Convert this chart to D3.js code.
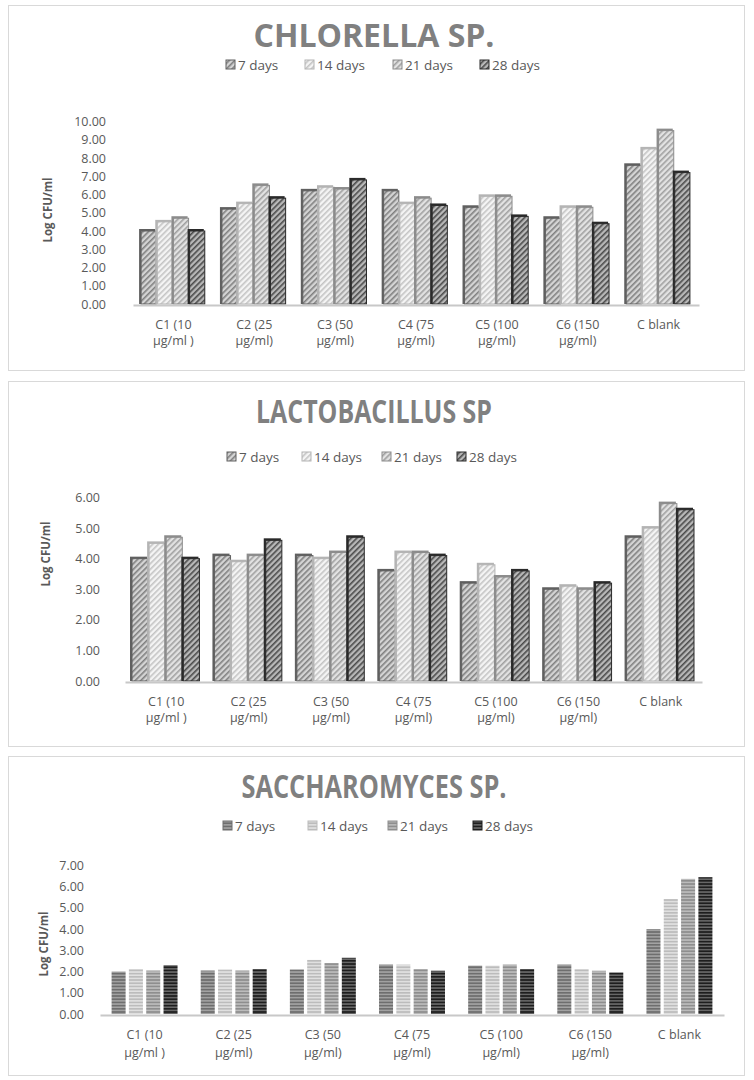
<!DOCTYPE html>
<html><head><meta charset="utf-8">
<script src="https://cdn.jsdelivr.net/npm/d3@7"></script>
<style>
body{margin:0;background:#fff;}
svg text{font-family:"Open Sans","Noto Sans",sans-serif;}
</style>
</head><body>
<svg id="chart" width="754" height="1080"></svg>
<script>
// ---------- data ----------
const categories = ["C1 (10|µg/ml )","C2 (25|µg/ml)","C3 (50|µg/ml)","C4 (75|µg/ml)","C5 (100|µg/ml)","C6 (150|µg/ml)","C blank"];
const seriesNames = ["7 days","14 days","21 days","28 days"];

const chlorella7  = [4.0, 5.2, 6.2, 6.2, 5.3, 4.7, 7.6];
const chlorella14 = [4.5, 5.5, 6.4, 5.5, 5.9, 5.3, 8.5];
const chlorella21 = [4.7, 6.5, 6.3, 5.8, 5.9, 5.3, 9.5];
const chlorella28 = [4.0, 5.8, 6.8, 5.4, 4.8, 4.4, 7.2];

const lacto7  = [4.0, 4.1, 4.1, 3.6, 3.2, 3.0, 4.7];
const lacto14 = [4.5, 3.9, 4.0, 4.2, 3.8, 3.1, 5.0];
const lacto21 = [4.7, 4.1, 4.2, 4.2, 3.4, 3.0, 5.8];
const lacto28 = [4.0, 4.6, 4.7, 4.1, 3.6, 3.2, 5.6];

const sacch7  = [2.0, 2.05, 2.1, 2.33, 2.28, 2.33, 4.0];
const sacch14 = [2.12, 2.1, 2.55, 2.33, 2.28, 2.12, 5.42];
const sacch21 = [2.05, 2.05, 2.4, 2.12, 2.33, 2.04, 6.37];
const sacch28 = [2.3, 2.12, 2.65, 2.04, 2.12, 1.96, 6.45];

const chlorellaTicks = [0,1,2,3,4,5,6,7,8,9,10];
const lactoTicks = [0,1,2,3,4,5,6];
const sacchTicks = [0,1,2,3,4,5,6,7];

const titles = ["CHLORELLA SP.","LACTOBACILLUS SP","SACCHAROMYCES SP."];
const yTitle = "Log CFU/ml";

// ---------- drawing ----------
const svg = d3.select("#chart");
const defs = svg.append("defs");

const hatch = [
  {bg:"#d4d4d4", line:"#808080", edge:"#606060"},
  {bg:"#f4f4f4", line:"#c4c4c4", edge:"#b4b4b4"},
  {bg:"#e2e2e2", line:"#a0a0a0", edge:"#8c8c8c"},
  {bg:"#b8b8b8", line:"#4a4a4a", edge:"#2a2a2a"}
];
hatch.forEach((h,i)=>{
  const p = defs.append("pattern").attr("id","hatch"+i).attr("patternUnits","userSpaceOnUse")
    .attr("width",4).attr("height",4).attr("patternTransform","rotate(45)");
  p.append("rect").attr("width",4).attr("height",4).attr("fill",h.bg);
  p.append("rect").attr("width",1.6).attr("height",4).attr("fill",h.line);
});
const stripes = [
  {a:"#6e6e6e", b:"#a4a4a4"},
  {a:"#bcbcbc", b:"#e2e2e2"},
  {a:"#8e8e8e", b:"#bdbdbd"},
  {a:"#1e1e1e", b:"#6a6a6a"}
];
stripes.forEach((s,i)=>{
  const p = defs.append("pattern").attr("id","stripe"+i).attr("patternUnits","userSpaceOnUse")
    .attr("width",4).attr("height",3.2);
  p.append("rect").attr("width",4).attr("height",3.2).attr("fill",s.b);
  p.append("rect").attr("width",4).attr("height",1.7).attr("fill",s.a);
});

const panels = [
  {box:[8,5,736,365], title:titles[0], titleY:47, titleLen:241, legendY:65, legendXs:[226,305,393,480],
   values:[chlorella7,chlorella14,chlorella21,chlorella28], ticks:chlorellaTicks, max:10,
   y0:304, y1:121.5, x0:133, x1:699, pad:0.2, inner:0, tickRight:106, yTitleX:52, yTitleY:210,
   lab1:329, lab2:345, style:"hatch"},
  {box:[8,381,736,365], title:titles[1], titleY:423, titleLen:236, legendY:457, legendXs:[227,302,382,457],
   values:[lacto7,lacto14,lacto21,lacto28], ticks:lactoTicks, max:6,
   y0:681, y1:497.5, x0:125, x1:702, pad:0.17, inner:0, tickRight:100, yTitleX:50, yTitleY:554,
   lab1:706, lab2:722, style:"hatch"},
  {box:[8,756,736,319], title:titles[2], titleY:798, titleLen:265, legendY:826, legendXs:[223,308,388,473],
   values:[sacch7,sacch14,sacch21,sacch28], ticks:sacchTicks, max:7,
   y0:1014, y1:865.5, x0:100, x1:724, pad:0.26, inner:0.19, tickRight:84, yTitleX:48, yTitleY:944,
   lab1:1039, lab2:1057, style:"stripe"}
];

const txt = "#595959";

panels.forEach(P=>{
  const g = svg.append("g");
  g.append("rect").attr("x",P.box[0]+0.5).attr("y",P.box[1]+0.5).attr("width",P.box[2]).attr("height",P.box[3])
    .attr("fill","#fff").attr("stroke","#d9d9d9").attr("stroke-width",1);

  g.append("text").attr("x",374).attr("y",P.titleY).attr("text-anchor","middle")
    .attr("font-size",33).attr("font-weight",700).attr("fill","#808080")
    .attr("textLength",P.titleLen).attr("lengthAdjust","spacingAndGlyphs").text(P.title);

  seriesNames.forEach((s,i)=>{
    const lx = P.legendXs[i];
    const fillId = P.style==="hatch" ? "hatch"+i : "stripe"+i;
    const edge = P.style==="hatch" ? hatch[i].edge : stripes[i].a;
    g.append("rect").attr("x",lx).attr("y",P.legendY-5).attr("width",9).attr("height",9)
      .attr("fill",`url(#${fillId})`).attr("stroke",edge).attr("stroke-width",1);
    g.append("text").attr("x",lx+12).attr("y",P.legendY+4.5).attr("font-size",13.5).attr("fill",txt).text(s);
  });

  const y = d3.scaleLinear().domain([0,P.max]).range([P.y0,P.y1]);
  const x = d3.scaleBand().domain(categories).range([P.x0,P.x1]).paddingInner(P.pad).paddingOuter(P.pad/2);
  const xs = d3.scaleBand().domain(seriesNames).range([0,x.bandwidth()]).paddingInner(P.inner);

  const yAxis = d3.axisLeft(y).tickValues(P.ticks).tickFormat(d3.format(".2f")).tickSize(0).tickPadding(0);
  const ya = g.append("g").attr("transform",`translate(${P.tickRight},0)`).call(yAxis);
  ya.select(".domain").remove();
  ya.selectAll("text").attr("font-size",12.5).attr("fill",txt).attr("font-family","Open Sans, sans-serif");

  g.append("text").attr("transform",`translate(${P.yTitleX},${P.yTitleY}) rotate(-90)`)
    .attr("text-anchor","middle").attr("font-size",11.5).attr("font-weight",700).attr("fill",txt).text(yTitle);

  P.values.forEach((vals,si)=>{
    categories.forEach((c,ci)=>{
      const bx = x(c)+xs(seriesNames[si]);
      const bw = xs.bandwidth();
      const by = y(vals[ci]);
      const bh = y(0)-by;
      if(P.style==="hatch"){
        const h = hatch[si];
        g.append("rect").attr("x",bx-2).attr("y",by-2).attr("width",bw).attr("height",bh+2).attr("fill",h.edge);
        g.append("rect").attr("x",bx).attr("y",by).attr("width",bw-1).attr("height",bh)
          .attr("fill",`url(#hatch${si})`).attr("stroke",h.edge).attr("stroke-width",1);
      } else {
        g.append("rect").attr("x",bx).attr("y",by).attr("width",bw).attr("height",bh)
          .attr("fill",`url(#stripe${si})`);
      }
    });
  });

  const xa = d3.axisBottom(x).tickSize(0).tickFormat("");
  const xg = g.append("g").attr("transform",`translate(0,${P.y0+1})`).call(xa);
  xg.select(".domain").attr("stroke","#c8c8c8").attr("stroke-width",2);

  categories.forEach(c=>{
    const parts = c.split("|");
    const cx = x(c)+x.bandwidth()/2;
    g.append("text").attr("x",cx).attr("y",P.lab1).attr("text-anchor","middle").attr("font-size",12.5).attr("fill",txt).text(parts[0]);
    if(parts[1]) g.append("text").attr("x",cx).attr("y",P.lab2).attr("text-anchor","middle").attr("font-size",12.5).attr("fill",txt).text(parts[1]);
  });
});
</script>
</body></html>
